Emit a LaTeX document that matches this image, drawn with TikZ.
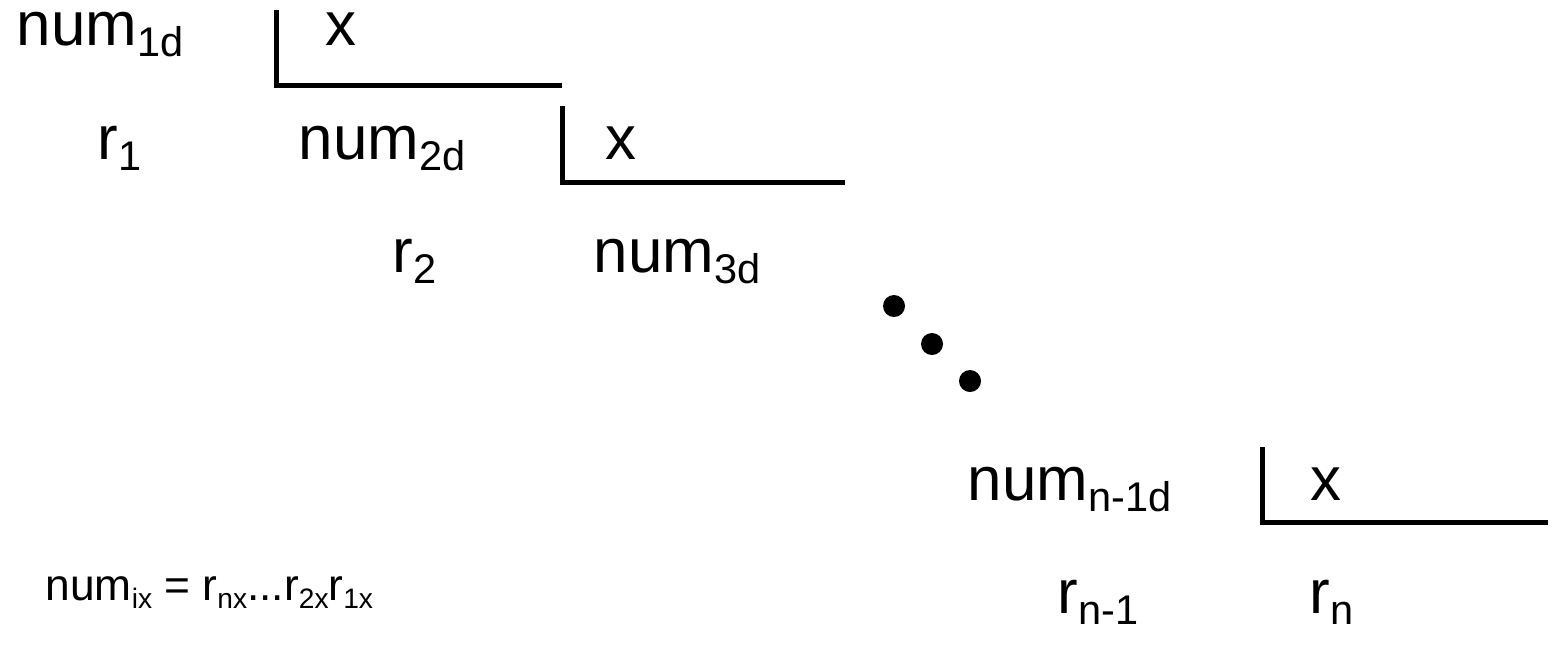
\documentclass[tikz,border=0pt]{standalone}
\usepackage{fontspec}
\setmainfont{Liberation Sans}
\newcommand\bigsub[1]{\raisebox{-0.11cm}{\fontsize{11.8}{13}\selectfont #1}}
\newcommand\smallsub[1]{\raisebox{-0.08cm}{\fontsize{8}{9}\selectfont #1}}
\begin{document}
\begin{tikzpicture}[x=0.01cm,y=-0.01cm,
  lbl/.style={anchor=base west,inner sep=0pt,font=\fontsize{17.6}{20}\selectfont},
  note/.style={anchor=base west,inner sep=0pt,font=\fontsize{12.6}{15}\selectfont},
  bar/.style={line width=0.05cm,line join=miter},
  dot/.style={circle,fill=black,inner sep=0pt,minimum size=0.22cm}]
\useasboundingbox (0,0) rectangle (1563,666);
% labels
\node[lbl] (n1) at (16,45) {num\bigsub{1d}};
\node[lbl] (x1) at (325,45) {x};
\node[lbl] (r1) at (97,159) {r\bigsub{1}};
\node[lbl] (n2) at (298,159) {num\bigsub{2d}};
\node[lbl] (x2) at (605,159) {x};
\node[lbl] (r2) at (392,272) {r\bigsub{2}};
\node[lbl] (n3) at (593,272) {num\bigsub{3d}};
\node[lbl] (nn1) at (967,500) {num\bigsub{n-1d}};
\node[lbl] (xn) at (1310,500) {x};
\node[lbl] (rn1) at (1057,613) {r\bigsub{n-1}};
\node[lbl] (rn) at (1309,613) {r\bigsub{n}};
\node[note] (formula) at (45,600) {num\smallsub{ix} = r\smallsub{nx}...r\smallsub{2x}r\smallsub{1x}};
% division bars
\coordinate (a1) at (276.5,10);
\coordinate (b1) at (276.5,85.5);
\coordinate (c1) at (562,85.5);
\coordinate (a2) at (562,106);
\coordinate (b2) at (562,182);
\coordinate (c2) at (845,182);
\coordinate (a3) at (1262,447);
\coordinate (b3) at (1262,522);
\coordinate (c3) at (1548,522);
\draw[bar] (a1) -- (b1) -- (c1);
\draw[bar] (a2) -- (b2) -- (c2);
\draw[bar] (a3) -- (b3) -- (c3);
% ellipsis dots
\node[dot] (d1) at (894,306) {};
\node[dot] (d2) at (932,344) {};
\node[dot] (d3) at (970,381) {};
\end{tikzpicture}
\end{document}
